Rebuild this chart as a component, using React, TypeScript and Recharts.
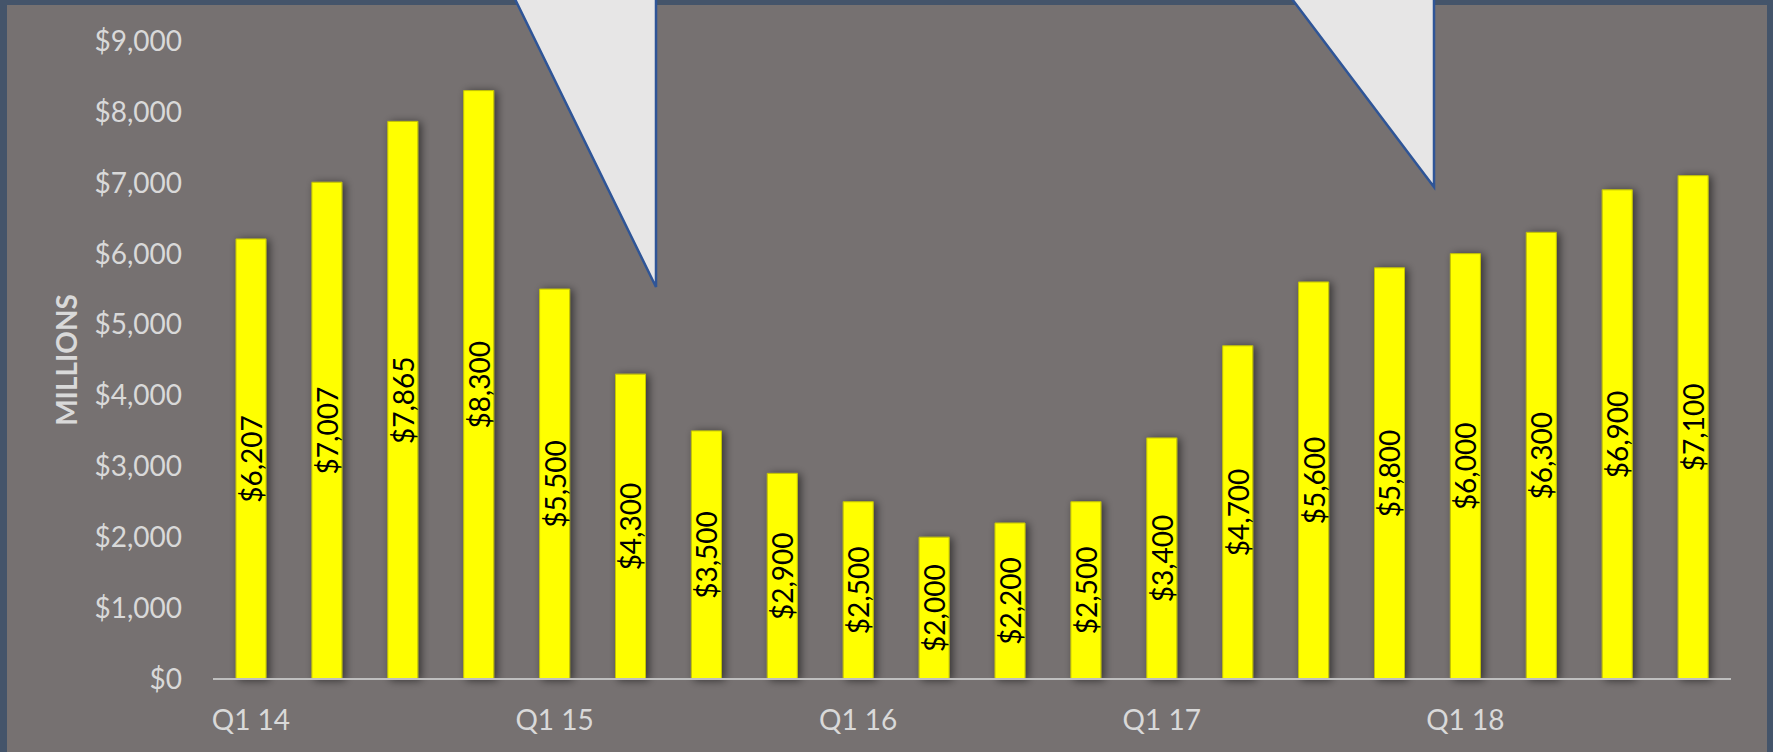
import React from 'react';
import { BarChart, Bar, XAxis, YAxis, LabelList, Label } from 'recharts';

const quarters = [
  'Q1 14', 'Q2 14', 'Q3 14', 'Q4 14',
  'Q1 15', 'Q2 15', 'Q3 15', 'Q4 15',
  'Q1 16', 'Q2 16', 'Q3 16', 'Q4 16',
  'Q1 17', 'Q2 17', 'Q3 17', 'Q4 17',
  'Q1 18', 'Q2 18', 'Q3 18', 'Q4 18',
];
const revenue = [
  6207, 7007, 7865, 8300, 5500, 4300, 3500, 2900, 2500, 2000,
  2200, 2500, 3400, 4700, 5600, 5800, 6000, 6300, 6900, 7100,
];
const yTicks = [0, 1000, 2000, 3000, 4000, 5000, 6000, 7000, 8000, 9000];

const data = quarters.map((q, i) => ({ quarter: q, value: revenue[i] }));

const W = 1773;
const H = 752;
const FONT = 'Lato, "Open Sans", sans-serif';

// callout pointers drawn over the frame
const callouts = [
  '513,-5 656,-5 656,287',
  '1289,-5 1434,-5 1434,187',
];

const money = (v: number) => '$' + v.toLocaleString('en-US');

const BarValue = (props: any) => {
  const { x, y, width, height, value } = props;
  const cx = x + width / 2;
  const cy = y + height / 2;
  return (
    <text
      x={cx}
      y={cy}
      transform={`rotate(-90, ${cx}, ${cy})`}
      textAnchor="middle"
      dominantBaseline="central"
      fill="#000"
      fontSize={28}
      fontFamily={FONT}
    >
      {money(value)}
    </text>
  );
};

const AxisTitle = (props: any) => {
  const vb = props.viewBox || {};
  const cx = 66;
  const cy = vb.y + vb.height / 2;
  return (
    <text
      x={cx}
      y={cy}
      transform={`rotate(-90, ${cx}, ${cy})`}
      textAnchor="middle"
      dominantBaseline="central"
      fill="#D9D9D9"
      fontSize={28}
      fontWeight="bold"
      fontFamily={FONT}
    >
      MILLIONS
    </text>
  );
};

export default function App() {
  return (
    <div style={{ position: 'absolute', left: 0, top: 0, width: W, height: H, background: '#44546A', overflow: 'hidden' }}>
      <svg width={0} height={0} style={{ position: 'absolute' }}>
        <defs>
          <filter id="barShadow" x="-50%" y="-10%" width="200%" height="120%">
            <feDropShadow dx={3} dy={1} stdDeviation={4} floodColor="#000" floodOpacity={0.55} />
          </filter>
        </defs>
      </svg>
      <div style={{ position: 'absolute', left: 7, top: 5, width: W - 13, height: H - 5, background: '#767171' }} />
      <div style={{ position: 'absolute', left: 0, top: 0 }}>
        <BarChart
          width={W}
          height={H}
          data={data}
          margin={{ top: 41, right: 42, bottom: 0, left: 0 }}
          style={{ fontFamily: FONT }}
        >
          <XAxis
            dataKey="quarter"
            interval={3}
            tickLine={false}
            tickSize={0}
            tickMargin={31}
            axisLine={{ stroke: '#BFBFBF', strokeWidth: 2 }}
            tick={{ fill: '#D9D9D9', fontSize: 28, fontFamily: FONT }}
            height={73}
          />
          <YAxis
            width={213}
            domain={[0, 9000]}
            ticks={yTicks}
            tickFormatter={money}
            axisLine={false}
            tickLine={false}
            tickSize={0}
            tickMargin={31}
            tick={{ fill: '#D9D9D9', fontSize: 28, fontFamily: FONT }}
          >
            <Label content={<AxisTitle />} />
          </YAxis>
          <Bar
            dataKey="value"
            fill="#FFFF00"
            stroke="#C4C400"
            strokeWidth={1}
            barSize={30}
            filter="url(#barShadow)"
            isAnimationActive={false}
          >
            <LabelList dataKey="value" content={<BarValue />} />
          </Bar>
        </BarChart>
      </div>
      <svg width={W} height={H} style={{ position: 'absolute', left: 0, top: 0, pointerEvents: 'none' }}>
        {callouts.map((pts, i) => (
          <polygon key={i} points={pts} fill="#E7E6E6" stroke="#2F5597" strokeWidth={2.5} strokeLinejoin="miter" />
        ))}
      </svg>
    </div>
  );
}
